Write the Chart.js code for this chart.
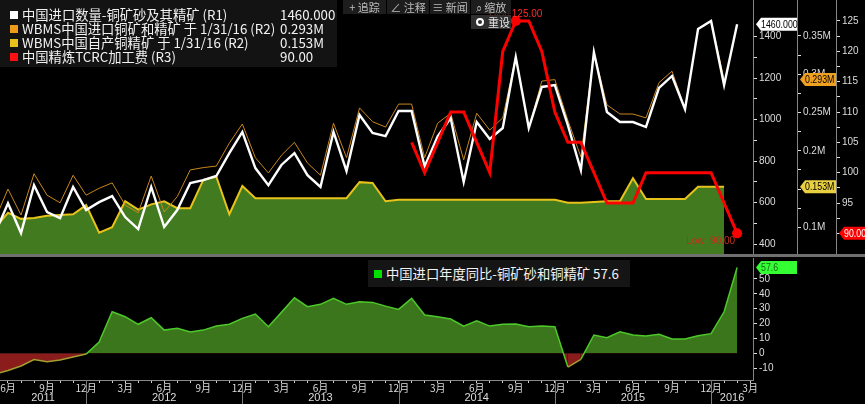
<!DOCTYPE html>
<html>
<head>
<meta charset="utf-8">
<script src="https://cdn.jsdelivr.net/npm/chart.js@4.4.1/dist/chart.umd.min.js"></script>
<style>
html,body{margin:0;padding:0;background:#000}
body{width:865px;height:404px;position:relative;overflow:hidden;font-family:"Noto Sans CJK SC","Noto Sans",sans-serif}
canvas{position:absolute;left:0;display:block}
#topChart{top:0}
#bottomChart{top:257px}
#sep{position:absolute;left:0;top:254px;width:865px;height:3px;background:#707070}
#legend{position:absolute;left:0;top:0;width:337px;height:67px;background:#131313;color:#f2f2f2;font-size:13.3px}
#legend .row{position:absolute;left:0;height:14px;line-height:14px;white-space:nowrap}
#legend i{position:absolute;left:10px;top:3px;width:8px;height:8px}
#legend .n{position:absolute;left:22px}
#legend .v{position:absolute;left:280px}
.tb{position:absolute;top:0;height:14px;line-height:14px;background:#1d1d1d;color:#bdbdbd;font-size:11px;text-align:center;white-space:nowrap}
#reset{position:absolute;left:471px;top:15px;width:40px;height:14px;line-height:14px;background:#2f2f2f;color:#e8e8e8;font-size:11px;white-space:nowrap}
#reset b{position:absolute;left:5px;top:3px;width:4px;height:4px;border:2px solid #fff;border-radius:50%}
#reset span{position:absolute;left:17px}
#legend2{position:absolute;left:368px;top:260px;width:262px;height:27px;line-height:27px;background:#151515;color:#f2f2f2;font-size:13.3px;white-space:nowrap}
#legend2 i{position:absolute;left:6px;top:10px;width:8px;height:8px;background:#00e000}
#legend2 span{position:absolute;left:18px}
</style>
</head>
<body>
<canvas id="topChart" width="865" height="254"></canvas>
<div id="sep"></div>
<canvas id="bottomChart" width="865" height="147"></canvas>

<div id="legend">
  <div class="row" style="top:8px"><i style="background:#ffffff"></i><span class="n">中国进口数量-铜矿砂及其精矿 (R1)</span><span class="v">1460.000</span></div>
  <div class="row" style="top:22px"><i style="background:#f09a1a"></i><span class="n">WBMS中国进口铜矿和精矿 于 1/31/16 (R2)</span><span class="v">0.293M</span></div>
  <div class="row" style="top:36px"><i style="background:#e6c21a"></i><span class="n">WBMS中国自产铜精矿 于 1/31/16 (R2)</span><span class="v">0.153M</span></div>
  <div class="row" style="top:50px"><i style="background:#ff1010"></i><span class="n">中国精炼TCRC加工费 (R3)</span><span class="v">90.00</span></div>
</div>

<div class="tb" style="left:343px;width:43px">+ 追踪</div>
<div class="tb" style="left:387px;width:42px">∠ 注释</div>
<div class="tb" style="left:430px;width:40px">≡ 新闻</div>
<div class="tb" style="left:471px;width:40px">⌕ 缩放</div>
<div id="reset"><b></b><span>重设</span></div>

<div id="legend2"><i></i><span>中国进口年度同比-铜矿砂和铜精矿 57.6</span></div>

<script>
// months (month-end points), May 2011 .. Feb 2016
const months = [
  '2011-05','2011-06','2011-07','2011-08','2011-09','2011-10','2011-11','2011-12',
  '2012-01','2012-02','2012-03','2012-04','2012-05','2012-06','2012-07','2012-08','2012-09','2012-10','2012-11','2012-12',
  '2013-01','2013-02','2013-03','2013-04','2013-05','2013-06','2013-07','2013-08','2013-09','2013-10','2013-11','2013-12',
  '2014-01','2014-02','2014-03','2014-04','2014-05','2014-06','2014-07','2014-08','2014-09','2014-10','2014-11','2014-12',
  '2015-01','2015-02','2015-03','2015-04','2015-05','2015-06','2015-07','2015-08','2015-09','2015-10','2015-11','2015-12',
  '2016-01','2016-02'
];

// 中国进口数量-铜矿砂及其精矿 (R1, 千吨)
const importQty = [
  452, 598, 454, 685, 555, 526, 676, 565,
  603, 632, 531, 473, 676, 483, 565, 695, 709, 729, 839, 941,
  767, 685, 782, 839, 733, 676, 941, 753, 1023, 936, 921, 1042,
  1042, 775, 920, 1008, 700, 989, 907, 960, 1302, 960, 1158, 1167,
  974, 757, 1326, 1037, 989, 989, 965, 1153, 1211, 1051, 1437, 1476,
  1167, 1460
];

// WBMS中国进口铜矿和精矿 (R2, M)
const wbmsImport = [
  0.110, 0.150, 0.116, 0.170, 0.142, 0.132, 0.168, 0.142,
  0.151, 0.158, 0.129, 0.119, 0.167, 0.120, 0.140, 0.175, 0.178, 0.180, 0.210, 0.235,
  0.191, 0.171, 0.194, 0.211, 0.184, 0.168, 0.236, 0.191, 0.256, 0.238, 0.231, 0.261,
  0.261, 0.191, 0.236, 0.249, 0.188, 0.249, 0.227, 0.243, 0.323, 0.230, 0.291, 0.293,
  0.240, 0.192, 0.329, 0.260, 0.248, 0.248, 0.243, 0.289, 0.304, 0.255, 0.359, 0.370,
  0.293, null
];

// WBMS中国自产铜精矿 (R2, M)
const wbmsDomestic = [
  0.099, 0.119, 0.111, 0.112, 0.115, 0.116, 0.117, 0.129,
  0.093, 0.100, 0.134, 0.123, 0.130, 0.134, 0.125, 0.125, 0.162, 0.166, 0.117, 0.154,
  0.138, 0.138, 0.138, 0.138, 0.138, 0.138, 0.138, 0.138, 0.159, 0.158, 0.134, 0.136,
  0.136, 0.136, 0.136, 0.136, 0.136, 0.136, 0.136, 0.136, 0.136, 0.136, 0.136, 0.136,
  0.132, 0.132, 0.133, 0.134, 0.134, 0.164, 0.137, 0.137, 0.137, 0.137, 0.153, 0.153,
  0.153, null
];

// 中国精炼TCRC加工费 (R3)
const tcrc = [
  null, null, null, null, null, null, null, null,
  null, null, null, null, null, null, null, null, null, null, null, null,
  null, null, null, null, null, null, null, null, null, null, null, null,
  105, 100, 105, 110, 110, 105, 100, 120, 125, 125, 120, 110,
  105, 105, 100, 95, 95, 95, 100, 100, 100, 100, 100, 100,
  95, 90
];

// 中国进口年度同比-铜矿砂和铜精矿 (%)
const importYoY = [
  -14, -11.5, -8.5, -4.2, -5.6, -4.5, -2.5, -0.5,
  7.6, 27.9, 24.6, 19.5, 23.9, 15.6, 16.8, 14.3, 15.6, 18.3, 19.5, 23.5,
  26.4, 17.9, 27.5, 37.3, 31.3, 32.9, 36.9, 32.9, 34.6, 34.2, 31.7, 29.5,
  36.9, 25.7, 24.6, 23, 18.3, 21.9, 18.3, 19.5, 19.7, 17.9, 18.3, 17.9,
  -9.2, -4, 12.3, 10.5, 14.5, 12.3, 11.6, 12.8, 9.6, 9.6, 11.8, 13.2,
  27.9, 57.6
];

// axis ticks
const r1Ticks = [400, 600, 800, 1000, 1200, 1400];
const r2Ticks = [0.1, 0.15, 0.2, 0.25, 0.3, 0.35];
const r3Ticks = [90, 95, 100, 105, 110, 115, 120, 125];
const yoyTicks = [-10, 0, 10, 20, 30, 40, 50];

const xMin = 0.386, xMax = 58.22;
const tickFont = {family: '"Liberation Sans",sans-serif', size: 10};
const tickColor = '#dcdcdc';

function withMinor(major){
  const out = [];
  for(let i=0;i<major.length;i++){
    out.push(major[i]);
    if(i<major.length-1) out.push((major[i]+major[i+1])/2);
  }
  return out;
}
function pts(arr){ return arr.map((v,i)=>({x:i, y:v})) }

function rightAxis(min, max, ticks, weight, width, fmt){
  return {
    position: 'right', weight: weight, min: min, max: max,
    afterFit: s => { s.width = width; s.paddingTop = 0; s.paddingBottom = 0 },
    afterBuildTicks: s => { s.ticks = withMinor(ticks).map(v=>({value:v})) },
    grid: {drawOnChartArea: false, tickLength: 4, tickColor: '#e0e0e0'},
    border: {color: '#858585', width: 1},
    ticks: {color: tickColor, font: tickFont, padding: 2,
      callback: v => ticks.includes(v) ? fmt(v) : ''}
  }
}

function drawTag(ctx, x, y, w, text, bg, fg){
  ctx.save();
  ctx.beginPath();
  ctx.moveTo(x, y);
  ctx.lineTo(x+5, y-6.5);
  ctx.lineTo(x+w, y-6.5);
  ctx.lineTo(x+w, y+6.5);
  ctx.lineTo(x+5, y+6.5);
  ctx.closePath();
  ctx.fillStyle = bg;
  ctx.fill();
  ctx.fillStyle = fg;
  ctx.font = '10px "Liberation Sans",sans-serif';
  ctx.textBaseline = 'middle';
  ctx.textAlign = 'left';
  ctx.translate(x+5, y+0.5);
  ctx.scale(0.88, 1);
  ctx.fillText(text, 0, 0);
  ctx.restore();
}

const hiIdx = tcrc.indexOf(Math.max(...tcrc.filter(v=>v!==null)));
const loIdx = tcrc.length-1;

const topTags = {
  id: 'topTags',
  afterDatasetsDraw(chart){
    const ctx = chart.ctx;
    const meta = chart.getDatasetMeta(0);
    const hi = meta.data[hiIdx], lo = meta.data[loIdx];
    ctx.save();
    ctx.font = '10px "Liberation Sans",sans-serif';
    ctx.textBaseline = 'alphabetic';
    ctx.textAlign = 'left';
    ctx.fillStyle = '#ff2a2a';
    ctx.fillText(tcrc[hiIdx].toFixed(2), hi.x-4, hi.y-4);
    ctx.textAlign = 'right';
    ctx.fillStyle = '#9a1a1a';
    ctx.fillText('High', hi.x-6, hi.y-4);
    ctx.fillStyle = '#c0301a';
    ctx.fillText('Low  ' + tcrc[loIdx].toFixed(2), lo.x-2, lo.y+11);
    ctx.restore();
  },
  afterDraw(chart){
    const ctx = chart.ctx, s = chart.scales;
    const lastQty = importQty[importQty.length-1];
    drawTag(ctx, s.r1.left+3, s.r1.getPixelForValue(lastQty), 41, lastQty.toFixed(3), '#ffffff', '#000');
    const lastImp = wbmsImport.filter(v=>v!==null).pop();
    const lastDom = wbmsDomestic.filter(v=>v!==null).pop();
    drawTag(ctx, s.r2.left+3, s.r2.getPixelForValue(lastImp), 36, lastImp.toFixed(3)+'M', '#f0a020', '#000');
    drawTag(ctx, s.r2.left+3, s.r2.getPixelForValue(lastDom), 36, lastDom.toFixed(3)+'M', '#e8d040', '#000');
    drawTag(ctx, s.r3.left+3, s.r3.getPixelForValue(tcrc[loIdx]), 27, tcrc[loIdx].toFixed(2), '#ff0000', '#fff');
  }
};

new Chart(document.getElementById('topChart'), {
  type: 'line',
  data: {
    datasets: [
      {label: '中国精炼TCRC加工费 (R3)', data: pts(tcrc), yAxisID: 'r3', order: 0,
       borderColor: '#ff0000', borderWidth: 3, tension: 0,
       pointRadius: c => (c.dataIndex===hiIdx || c.dataIndex===loIdx) ? 5 : 0,
       pointBackgroundColor: '#ff0000', pointBorderWidth: 0},
      {label: '中国进口数量-铜矿砂及其精矿 (R1)', data: pts(importQty), yAxisID: 'r1', order: 1,
       borderColor: '#ffffff', borderWidth: 2.4, pointRadius: 0, tension: 0},
      {label: 'WBMS中国进口铜矿和精矿 (R2)', data: pts(wbmsImport), yAxisID: 'r2', order: 2,
       borderColor: '#c8861e', borderWidth: 1, pointRadius: 0, tension: 0},
      {label: 'WBMS中国自产铜精矿 (R2)', data: pts(wbmsDomestic), yAxisID: 'r2', order: 3,
       borderColor: '#e6c21a', borderWidth: 2, pointRadius: 0, tension: 0,
       fill: 'start', backgroundColor: '#427a20'}
    ]
  },
  options: {
    responsive: false, animation: false, events: [],
    layout: {padding: 0, autoPadding: false},
    plugins: {legend: {display: false}, tooltip: {enabled: false}},
    scales: {
      x: {type: 'linear', display: false, min: xMin, max: xMax},
      r1: rightAxis(353, 1577, r1Ticks, 0, 44, v => String(v)),
      r2: rightAxis(0.0651, 0.397, r2Ticks, 1, 39, v => (Math.round(v*100)/100) + 'M'),
      r3: rightAxis(86.6, 128.46, r3Ticks, 2, 29, v => String(v))
    }
  },
  plugins: [topTags]
});

function monthOf(i){
  if(i < months.length) return parseInt(months[i].slice(5), 10);
  return ((parseInt(months[months.length-1].slice(5),10) + (i-months.length+1) - 1) % 12) + 1;
}

const bottomDecor = {
  id: 'bottomDecor',
  afterDraw(chart){
    const ctx = chart.ctx, x = chart.scales.x, area = chart.chartArea;
    const bounds = [area.left];
    months.forEach((m,i)=>{ if(m.endsWith('-12')) bounds.push(x.getPixelForValue(i)) });
    bounds.push(area.right);
    const years = [];
    months.forEach(m=>{ const y = m.slice(0,4); if(!years.includes(y)) years.push(y) });
    ctx.save();
    ctx.strokeStyle = '#7a7a7a';
    ctx.lineWidth = 1;
    for(let b=1;b<bounds.length-1;b++){
      const px = Math.round(bounds[b])+0.5;
      ctx.beginPath(); ctx.moveTo(px, area.bottom); ctx.lineTo(px, chart.height); ctx.stroke();
    }
    ctx.fillStyle = '#dcdcdc';
    ctx.font = '11px "Liberation Sans",sans-serif';
    ctx.textAlign = 'center';
    ctx.textBaseline = 'middle';
    years.forEach((y,k)=>{ ctx.fillText(y, (bounds[k]+bounds[k+1])/2, chart.height-6) });
    ctx.restore();
    const lastY = importYoY[importYoY.length-1];
    drawTag(ctx, chart.scales.y.left+3, chart.scales.y.getPixelForValue(lastY), 41, String(lastY), '#33ff33', '#1a6a1a');
  }
};

new Chart(document.getElementById('bottomChart'), {
  type: 'line',
  data: {
    datasets: [
      {label: '中国进口年度同比-铜矿砂和铜精矿', data: pts(importYoY),
       borderColor: '#4cc82a', borderWidth: 1.5, pointRadius: 0, tension: 0,
       segment: {borderColor: c => (c.p0.parsed.y < 0 && c.p1.parsed.y <= 0) ? '#a0a030' : '#4cc82a'},
       fill: {target: {value: 0}, above: '#3c761c', below: '#8a1c1c'}}
    ]
  },
  options: {
    responsive: false, animation: false, events: [],
    layout: {padding: {top: 1, left: 0, right: 0, bottom: 0}, autoPadding: false},
    plugins: {legend: {display: false}, tooltip: {enabled: false}},
    scales: {
      x: {type: 'linear', min: xMin, max: xMax,
        afterFit: s => { s.height = 24; s.paddingLeft = 0; s.paddingRight = 0 },
        afterBuildTicks: s => { const t = []; for(let i=1;i<=58;i++) t.push({value:i}); s.ticks = t },
        grid: {drawOnChartArea: false, tickLength: 3, tickColor: '#d0d0d0'},
        border: {color: '#8a8a8a', width: 1},
        ticks: {color: tickColor, font: {family: '"Noto Sans CJK SC",sans-serif', size: 10}, padding: -1,
          autoSkip: false, maxRotation: 0,
          callback: v => (monthOf(v) % 3 === 0) ? monthOf(v) + '月' : ''}
      },
      y: {position: 'right', min: -17.9, max: 64,
        afterFit: s => { s.width = 112; s.paddingTop = 0; s.paddingBottom = 0 },
        afterBuildTicks: s => { s.ticks = withMinor(yoyTicks).map(v=>({value:v})) },
        grid: {drawOnChartArea: false, tickLength: 4, tickColor: '#e0e0e0'},
        border: {color: '#858585', width: 1},
        ticks: {color: tickColor, font: tickFont, padding: 2,
          callback: v => yoyTicks.includes(v) ? String(v) : ''}
      }
    }
  },
  plugins: [bottomDecor]
});
</script>
</body>
</html>
